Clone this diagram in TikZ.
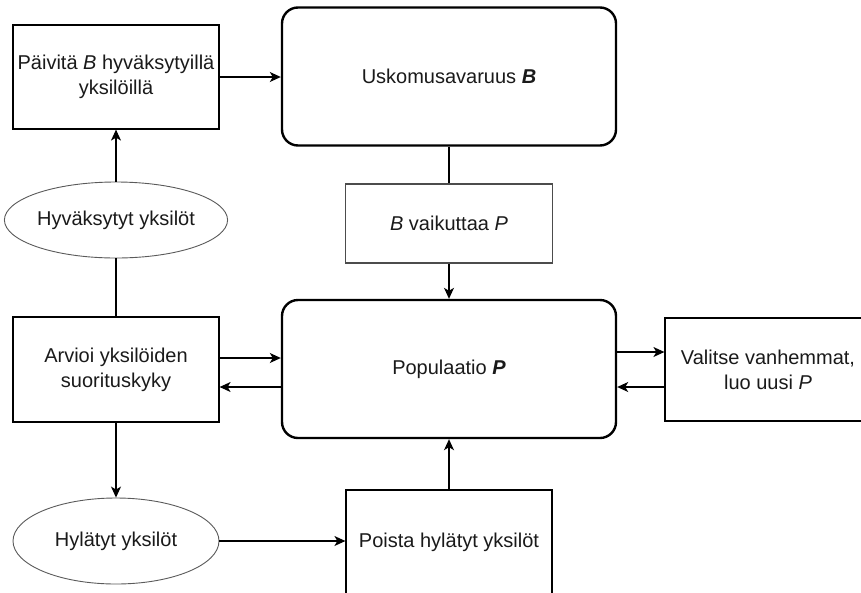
\documentclass[tikz,border=0pt]{standalone}
\usepackage{fontspec}
\setmainfont{Liberation Sans}
\usetikzlibrary{arrows.meta,shapes.geometric}
\definecolor{txt}{HTML}{1A1A1A}
\definecolor{ell}{HTML}{5A5A5A}
\begin{document}
\begin{tikzpicture}[x=1pt,y=-1pt,
  every node/.style={font=\fontsize{20}{25}\selectfont, text=txt, align=center, inner sep=0pt},
  box/.style={draw=black, line width=1.2pt, minimum width=206pt, minimum height=104pt},
  gbox/.style={draw=black!70, line width=1.2pt, minimum width=207pt, minimum height=79pt},
  rbox/.style={draw=black, line width=2.4pt, rounded corners=16pt, minimum width=334pt, minimum height=138pt},
  oval/.style={draw=ell, line width=0.9pt, ellipse, minimum width=206pt},
  arr/.style={-{Stealth[length=11pt,width=10pt,inset=3pt]}, line width=1.2pt},
  ln/.style={line width=1.2pt}]
\useasboundingbox (0,0) rectangle (861,592);
\clip (0,0) rectangle (861,592);
\fill[white] (0,0) rectangle (861,592);
% nodes
\node[box] (pb) at (116,77) {Päivitä \textit{B} hyväksytyillä\\yksilöillä};
\node[rbox] (B) at (449,76.5) {Uskomusavaruus \textbf{\textit{B}}};
\node[oval, minimum height=76pt] (hy) at (116,220) {Hyväksytyt yksilöt};
\node[gbox] (bp) at (449,223.5) {\textit{B} vaikuttaa \textit{P}};
\node[box, minimum height=105pt] (av) at (116,369.5) {Arvioi yksilöiden\\suorituskyky};
\node[rbox] (P) at (449,369) {Populaatio \textbf{\textit{P}}};
\node[box, minimum height=103pt] (va) at (768,369.5) {Valitse vanhemmat,\\luo uusi \textit{P}};
\node[oval, minimum height=86pt] (hl) at (116,541) {Hylätyt yksilöt};
\node[box] (po) at (449,542) {Poista hylätyt yksilöt};
% connectors
\draw[arr] (pb.east) -- (pb.east -| B.west);
\draw[arr] (hy.north) -- (pb.south);
\draw[ln] (hy.south) -- (av.north);
\draw[arr] (av.south) -- (hl.north);
\draw[arr] (hl.east) -- (hl.east -| po.west);
\draw[arr] (po.north) -- (P.south);
\draw[ln] (B.south) -- (bp.north);
\draw[arr] (bp.south) -- (P.north);
\draw[arr] ([yshift=11.5pt]av.east) -- ([yshift=11.5pt]av.east -| P.west);
\draw[arr] ([yshift=-17.5pt]av.east -| P.west) -- ([yshift=-17.5pt]av.east);
\draw[arr] ([yshift=17.5pt]va.west -| P.east) -- ([yshift=17.5pt]va.west);
\draw[arr] ([yshift=-17.5pt]va.west) -- ([yshift=-17.5pt]va.west -| P.east);
\end{tikzpicture}
\end{document}
